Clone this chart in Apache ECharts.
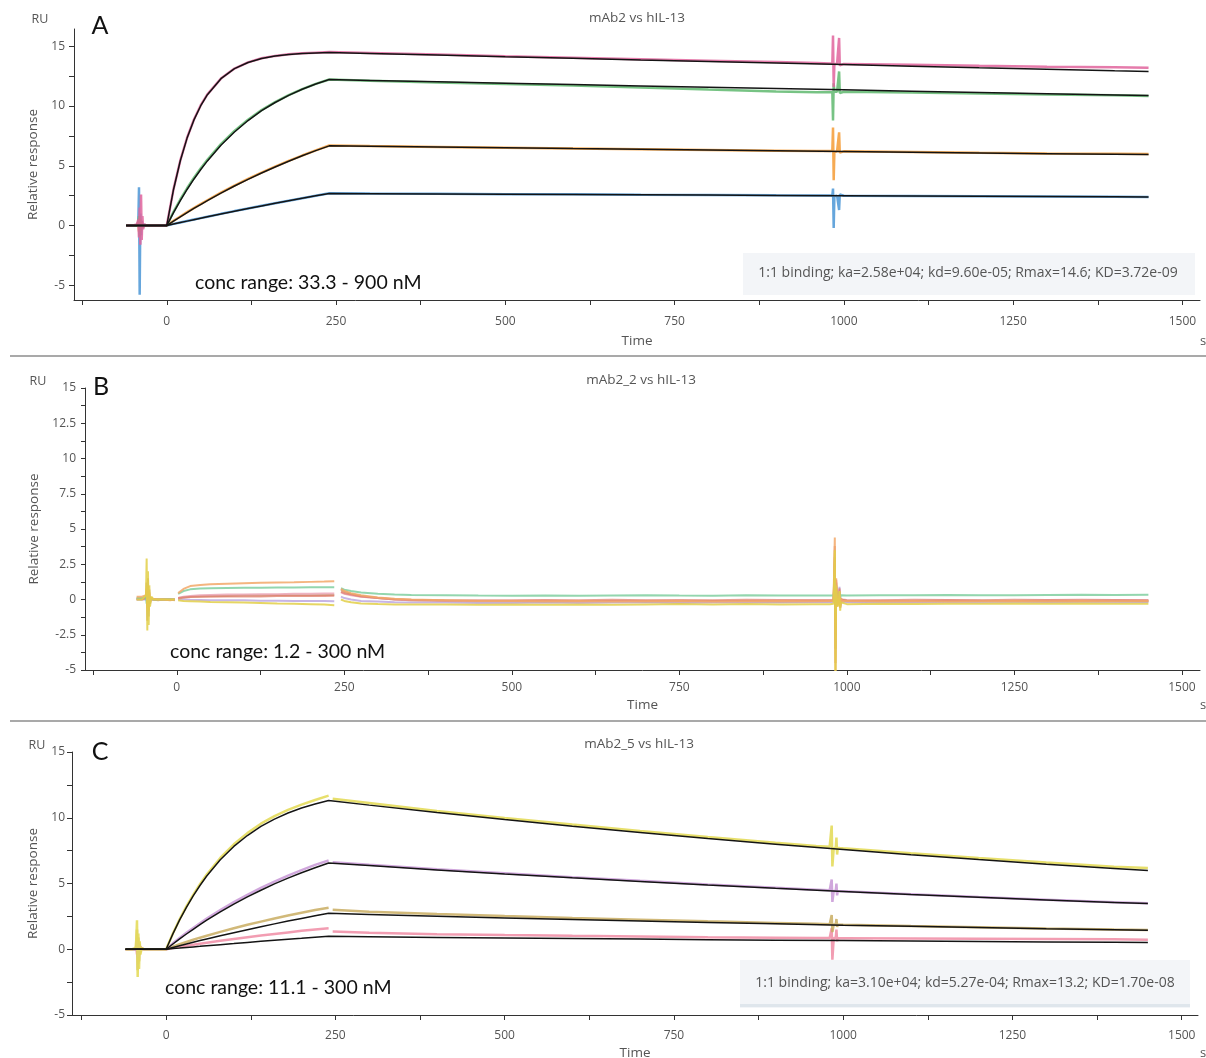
<!DOCTYPE html>
<html>
<head>
<meta charset="utf-8">
<title>mAb2 variants vs hIL-13 – SPR sensorgrams</title>
<script src="https://cdn.jsdelivr.net/npm/echarts@6/dist/echarts.min.js"></script>
<style>
  html, body { margin: 0; padding: 0; background: #fff; }
  #chart { width: 1206px; height: 1058px; }
</style>
</head>
<body>
<div id="chart"></div>
<script>
// ---------------- Panel titles and annotations ----------------
const panelTitles = ['mAb2 vs hIL-13', 'mAb2_2 vs hIL-13', 'mAb2_5 vs hIL-13'];
const panelLetters = ['A', 'B', 'C'];
const concLabels = ['conc range: 33.3 - 900 nM', 'conc range: 1.2 - 300 nM', 'conc range: 11.1 - 300 nM'];
const fitLabelA = '1:1 binding; ka=2.58e+04; kd=9.60e-05; Rmax=14.6; KD=3.72e-09';
const fitLabelC = '1:1 binding; ka=3.10e+04; kd=5.27e-04; Rmax=13.2; KD=1.70e-08';

// ---------------- Tick positions ----------------
const xTickValues = [-125, 0, 125, 250, 375, 500, 625, 750, 875, 1000, 1125, 1250, 1375, 1500];
const xLabelValues = [0, 250, 500, 750, 1000, 1250, 1500];
const yTickValuesAC = [-5, -2.5, 0, 2.5, 5, 7.5, 10, 12.5, 15];
const yLabelValuesAC = [-5, 0, 5, 10, 15];
const yTickValuesB = [-5, -3.75, -2.5, -1.25, 0, 1.25, 2.5, 3.75, 5, 6.25, 7.5, 8.75, 10, 11.25, 12.5, 13.75, 15];
const yLabelValuesB = [-5, -2.5, 0, 2.5, 5, 7.5, 10, 12.5, 15];

// ---------------- Fitted 1:1 curves (time in s, response in RU) ----------------
const tFit = [-60, 0, 10, 20, 30, 40, 50, 60, 80, 100, 120, 140, 160, 180, 200, 220, 240,
  300, 400, 500, 600, 700, 800, 900, 1000, 1100, 1200, 1300, 1400, 1450];

const fitA_900 = [0, 0, 3.02, 5.42, 7.32, 8.82, 10.01, 10.95, 12.29, 13.13, 13.65, 13.98, 14.19, 14.32, 14.40, 14.45, 14.49,
  14.41, 14.27, 14.13, 14.00, 13.86, 13.73, 13.60, 13.47, 13.34, 13.21, 13.09, 12.96, 12.90];
const fitA_300 = [0, 0, 1.09, 2.09, 3.02, 3.88, 4.67, 5.41, 6.72, 7.83, 8.79, 9.61, 10.30, 10.90, 11.41, 11.85, 12.22,
  12.15, 12.03, 11.92, 11.80, 11.69, 11.58, 11.47, 11.36, 11.25, 11.14, 11.04, 10.93, 10.88];
const fitA_100 = [0, 0, 0.37, 0.73, 1.09, 1.43, 1.76, 2.09, 2.71, 3.31, 3.87, 4.40, 4.90, 5.38, 5.84, 6.27, 6.67,
  6.63, 6.57, 6.51, 6.44, 6.38, 6.32, 6.26, 6.20, 6.14, 6.08, 6.02, 5.97, 5.94];
const fitA_33 = [0, 0, 0.13, 0.25, 0.37, 0.49, 0.61, 0.73, 0.97, 1.20, 1.42, 1.64, 1.86, 2.07, 2.28, 2.49, 2.69,
  2.67, 2.65, 2.62, 2.60, 2.57, 2.55, 2.52, 2.50, 2.48, 2.45, 2.43, 2.41, 2.39];

const fitC_300 = [0, 0, 1.17, 2.23, 3.19, 4.06, 4.85, 5.57, 6.80, 7.82, 8.65, 9.34, 9.90, 10.36, 10.74, 11.05, 11.31,
  10.96, 10.40, 9.86, 9.36, 8.88, 8.42, 7.99, 7.58, 7.19, 6.82, 6.47, 6.14, 5.98];
const fitC_100 = [0, 0, 0.40, 0.79, 1.16, 1.52, 1.87, 2.21, 2.84, 3.43, 3.98, 4.49, 4.97, 5.41, 5.82, 6.20, 6.56,
  6.36, 6.03, 5.72, 5.43, 5.15, 4.88, 4.63, 4.40, 4.17, 3.96, 3.75, 3.56, 3.47];
const fitC_33 = [0, 0, 0.14, 0.27, 0.40, 0.53, 0.66, 0.78, 1.02, 1.26, 1.49, 1.71, 1.93, 2.14, 2.34, 2.54, 2.73,
  2.65, 2.51, 2.38, 2.26, 2.14, 2.03, 1.93, 1.83, 1.74, 1.65, 1.56, 1.48, 1.44];
const fitC_11 = [0, 0, 0.05, 0.09, 0.14, 0.18, 0.22, 0.27, 0.35, 0.43, 0.52, 0.60, 0.68, 0.76, 0.83, 0.91, 0.98,
  0.95, 0.90, 0.85, 0.81, 0.77, 0.73, 0.69, 0.66, 0.62, 0.59, 0.56, 0.53, 0.52];

// ---------------- Measured sensorgrams, panel A ----------------
const tA = [-60, -50, -44, -42, -41, -40, -39, -38, -37, -36, -35, -33, -30, -20, -10, 0,
  10, 20, 30, 40, 50, 60, 80, 100, 120, 140, 160, 180, 200, 220, 240,
  300, 400, 500, 600, 700, 800, 900, 960,
  980, 983, 984, 985, 986, 990, 992, 993, 994, 996, 1000,
  1100, 1200, 1300, 1400, 1450];
const dataA_900 = [0, 0, 0.1, 0.5, -1.0, 1.5, -1.6, 2.6, -1.2, 0.8, -0.3, 0.1, 0, 0, 0, 0,
  3.05, 5.45, 7.35, 8.85, 10.05, 10.98, 12.3, 13.14, 13.66, 14.0, 14.2, 14.33, 14.42, 14.47, 14.52,
  14.44, 14.31, 14.17, 14.05, 13.92, 13.8, 13.68, 13.6,
  13.56, 13.55, 15.9, 11.6, 13.5, 13.55, 13.55, 15.7, 13.4, 13.54, 13.53,
  13.45, 13.37, 13.3, 13.24, 13.2];
const dataA_300 = [0, 0, 0, 0.2, 0.8, -0.9, 0.5, -0.4, 0.2, -0.1, 0, 0, 0, 0, 0, 0,
  1.15, 2.18, 3.12, 3.98, 4.78, 5.5, 6.82, 7.92, 8.86, 9.66, 10.33, 10.92, 11.42, 11.86, 12.22,
  12.12, 11.98, 11.85, 11.72, 11.55, 11.38, 11.22, 11.15,
  11.15, 11.15, 8.8, 11.9, 11.2, 11.2, 11.2, 12.9, 11.1, 11.2, 11.2,
  11.14, 11.05, 10.96, 10.9, 10.85];
const dataA_100 = [0, 0, 0, 0.3, -0.5, 0.6, -0.4, 0.3, -0.1, 0, 0, 0, 0, 0, 0, 0,
  0.4, 0.76, 1.12, 1.46, 1.8, 2.12, 2.75, 3.35, 3.9, 4.43, 4.93, 5.41, 5.86, 6.29, 6.7,
  6.65, 6.58, 6.52, 6.45, 6.39, 6.33, 6.27, 6.24,
  6.23, 6.3, 8.2, 3.8, 6.15, 6.22, 6.22, 7.8, 6.1, 6.22, 6.21,
  6.15, 6.09, 6.04, 6.0, 5.98];
const dataA_33 = [0, 0, 0, 0.3, 3.2, -5.8, 1.0, -0.8, 0.4, -0.2, 0.1, 0, 0, 0, 0, 0,
  0.14, 0.26, 0.38, 0.5, 0.62, 0.74, 0.98, 1.21, 1.43, 1.65, 1.87, 2.08, 2.29, 2.5, 2.7,
  2.68, 2.66, 2.63, 2.61, 2.58, 2.56, 2.53, 2.52,
  2.51, 2.5, 3.1, -0.2, 2.45, 2.5, 2.5, 1.3, 2.6, 2.5, 2.5,
  2.48, 2.46, 2.44, 2.42, 2.4];

// ---------------- Measured sensorgrams, panel B (no fit) ----------------
const tB = [-60, -52, -46, -45, -44, -43, -42, -41, -40, -38, -35, -28, -20, -10, -3,
  -1, 2, 10, 20, 35, 50, 75, 100, 125, 150, 175, 200, 220, 235,
  240, 245, 250, 260, 275, 300, 325, 350, 400, 450,
  500, 550, 600, 650, 700, 750, 800, 850, 900, 950,
  975, 980, 981, 982, 983, 984, 986, 988, 989, 990, 991, 993,
  1000, 1050, 1100, 1150, 1200, 1250, 1300, 1350, 1400, 1450];
const dataB_orange = [0.2, 0.2, 0.3, 0.8, -0.6, 1.0, -0.8, 0.5, -0.2, 0.1, 0.05, 0.0, 0.0, -0.05, 0.0,
  null, 0.45, 0.75, 0.95, 1.02, 1.08, 1.12, 1.15, 1.18, 1.2, 1.22, 1.25, 1.27, 1.3,
  null, 0.75, 0.6, 0.45, 0.3, 0.15, 0.05, 0.0, -0.05, -0.1,
  -0.1, -0.12, -0.1, -0.15, -0.12, -0.1, -0.15, -0.12, -0.1, -0.12,
  -0.1, -0.1, 2.0, 4.4, -6.0, 1.5, -0.5, 0.2, 0.6, -0.6, 0.1, -0.1,
  -0.1, -0.12, -0.1, -0.15, -0.12, -0.1, -0.12, -0.1, -0.12, -0.1];
const dataB_green = [0.1, 0.1, 0.2, -0.3, 0.5, -0.4, 0.3, -0.2, 0.1, 0.0, 0.0, 0.0, 0.0, 0.0, 0.0,
  null, 0.4, 0.6, 0.72, 0.78, 0.8, 0.82, 0.83, 0.84, 0.85, 0.85, 0.86, 0.86, 0.87,
  null, 0.8, 0.7, 0.6, 0.5, 0.4, 0.35, 0.32, 0.3, 0.28,
  0.27, 0.28, 0.26, 0.28, 0.3, 0.28, 0.27, 0.3, 0.28, 0.28,
  0.28, 0.28, 0.5, 1.2, -1.0, 0.6, 0.2, 0.3, 0.5, 0.1, 0.3, 0.28,
  0.28, 0.3, 0.3, 0.32, 0.3, 0.3, 0.32, 0.33, 0.32, 0.33];
const dataB_pink = [0.05, 0.05, 0.1, 0.6, -0.7, 0.8, -0.5, 0.3, -0.1, 0.05, 0.0, 0.0, 0.0, 0.0, 0.0,
  null, 0.1, 0.2, 0.25, 0.3, 0.32, 0.35, 0.35, 0.38, 0.38, 0.4, 0.4, 0.42, 0.42,
  null, 0.5, 0.4, 0.3, 0.2, 0.1, 0.0, -0.05, -0.08, -0.1,
  -0.1, -0.08, -0.12, -0.1, -0.08, -0.1, -0.12, -0.1, -0.08, -0.1,
  -0.1, -0.1, 0.8, 2.5, -2.5, 0.9, -0.3, 0.1, 0.7, -0.4, 0.0, -0.1,
  -0.1, -0.08, -0.1, -0.05, -0.08, -0.1, -0.05, -0.08, -0.05, -0.06];
const dataB_brown = [0.0, 0.0, 0.1, 1.2, -1.5, 1.5, -1.2, 0.7, -0.3, 0.1, 0.0, -0.05, 0.0, 0.0, -0.05,
  null, 0.05, 0.15, 0.2, 0.22, 0.25, 0.25, 0.28, 0.28, 0.3, 0.3, 0.3, 0.32, 0.32,
  null, 0.7, 0.55, 0.4, 0.25, 0.1, 0.0, -0.05, -0.1, -0.12,
  -0.12, -0.15, -0.12, -0.1, -0.15, -0.12, -0.1, -0.12, -0.15, -0.12,
  -0.12, -0.1, 1.0, 3.0, -3.5, 1.2, -0.4, 0.0, 0.5, -0.5, 0.0, -0.12,
  -0.12, -0.1, -0.12, -0.1, -0.08, -0.1, -0.12, -0.1, -0.1, -0.12];
const dataB_red = [0.05, 0.05, 0.1, 0.5, -0.4, 0.6, -0.3, 0.2, 0.0, 0.0, 0.0, 0.0, 0.0, 0.0, 0.0,
  null, 0.1, 0.15, 0.18, 0.2, 0.2, 0.22, 0.22, 0.22, 0.24, 0.24, 0.25, 0.25, 0.26,
  null, 0.55, 0.45, 0.35, 0.22, 0.1, 0.02, -0.02, -0.05, -0.05,
  -0.05, -0.03, -0.05, -0.02, -0.05, -0.03, -0.05, -0.02, -0.04, -0.03,
  -0.03, -0.03, 1.2, 3.8, -4.5, 1.4, -0.4, 0.1, 0.8, -0.5, 0.0, -0.03,
  -0.03, -0.05, -0.02, -0.03, -0.05, -0.02, -0.04, -0.02, -0.03, -0.05];
const dataB_purple = [0.0, 0.0, 0.0, 0.4, -0.5, 0.6, -0.4, 0.2, 0.0, 0.0, 0.0, 0.0, 0.0, 0.0, 0.0,
  null, 0.0, 0.0, -0.02, -0.03, -0.05, -0.05, -0.06, -0.08, -0.08, -0.1, -0.1, -0.1, -0.12,
  null, 0.2, 0.1, 0.0, -0.1, -0.15, -0.2, -0.22, -0.22, -0.25,
  -0.25, -0.22, -0.25, -0.22, -0.2, -0.25, -0.22, -0.2, -0.22, -0.2,
  -0.2, -0.2, 0.5, 1.5, -1.5, 0.5, -0.3, 0.0, 0.9, -0.6, 0.1, -0.2,
  -0.2, -0.22, -0.2, -0.2, -0.22, -0.2, -0.18, -0.2, -0.2, -0.18];
const dataB_yellow = [0.0, 0.0, 0.3, 2.9, -2.2, 2.0, -1.8, 1.0, -0.5, 0.2, 0.0, 0.0, 0.0, 0.0, 0.0,
  null, -0.05, -0.1, -0.12, -0.15, -0.18, -0.2, -0.22, -0.25, -0.28, -0.3, -0.33, -0.36, -0.4,
  null, 0.0, -0.1, -0.2, -0.28, -0.32, -0.35, -0.35, -0.35, -0.38,
  -0.35, -0.38, -0.35, -0.38, -0.35, -0.32, -0.35, -0.32, -0.35, -0.33,
  -0.33, -0.3, 1.5, 3.5, -5.5, 1.0, -0.5, -0.2, 0.6, -0.8, -0.2, -0.33,
  -0.33, -0.3, -0.32, -0.3, -0.3, -0.28, -0.3, -0.28, -0.3, -0.3];

// ---------------- Measured sensorgrams, panel C ----------------
const tC = [-60, -50, -45, -44, -43, -42, -41, -40, -39, -38, -36, -33, -30, -20, -10, 0,
  10, 20, 30, 40, 50, 60, 80, 100, 120, 140, 160, 180, 200, 220, 240,
  242, 246, 300, 400, 500, 600, 700, 800, 900, 960,
  980, 982, 983, 984, 986, 989, 990, 991, 992, 995,
  1000, 1100, 1200, 1300, 1400, 1450];
const dataC_300 = [0, 0, 0.1, 0.8, 2.2, -2.1, 1.2, -1.5, 0.6, -0.4, 0.1, 0, 0, 0, 0, 0,
  1.2, 2.28, 3.26, 4.14, 4.95, 5.68, 6.94, 7.98, 8.83, 9.55, 10.12, 10.6, 11.0, 11.35, 11.68,
  null, 11.45, 11.12, 10.52, 9.98, 9.48, 9.0, 8.54, 8.1, 7.86,
  7.8, 7.78, 9.4, 6.3, 7.68, 7.72, 8.5, 7.2, 7.72, 7.7,
  7.68, 7.3, 6.93, 6.6, 6.28, 6.18];
const dataC_100 = [0, 0, 0, 0.2, 0.6, -0.6, 0.4, -0.3, 0.1, 0, 0, 0, 0, 0, 0, 0,
  0.45, 0.86, 1.25, 1.62, 1.98, 2.33, 2.98, 3.58, 4.14, 4.66, 5.15, 5.6, 6.02, 6.42, 6.75,
  null, 6.62, 6.42, 6.08, 5.78, 5.48, 5.2, 4.93, 4.68, 4.53,
  4.48, 4.48, 5.3, 3.6, 4.43, 4.43, 5.0, 4.1, 4.43, 4.42,
  4.41, 4.19, 3.97, 3.77, 3.57, 3.49];
const dataC_33 = [0, 0, 0, 0.3, 1.5, -1.6, 0.9, -0.9, 0.4, -0.2, 0.1, 0, 0, 0, 0, 0,
  0.2, 0.38, 0.55, 0.72, 0.88, 1.03, 1.32, 1.6, 1.86, 2.1, 2.34, 2.56, 2.78, 2.98, 3.15,
  null, 3.0, 2.85, 2.68, 2.52, 2.38, 2.25, 2.12, 2.0, 1.93,
  1.9, 1.9, 2.6, 1.3, 1.88, 1.88, 2.3, 1.7, 1.88, 1.87,
  1.86, 1.76, 1.67, 1.58, 1.5, 1.47];
const dataC_11 = [0, 0, 0, 0.2, -0.4, 0.9, -1.1, 0.5, -0.4, 0.2, 0, 0, 0, 0, 0, 0,
  0.1, 0.18, 0.26, 0.34, 0.42, 0.5, 0.64, 0.78, 0.92, 1.04, 1.16, 1.28, 1.4, 1.5, 1.6,
  null, 1.35, 1.25, 1.15, 1.08, 1.02, 0.97, 0.92, 0.88, 0.86,
  0.86, 0.86, 1.6, -0.8, 0.85, 0.85, 1.5, 0.6, 0.85, 0.84,
  0.84, 0.82, 0.8, 0.78, 0.76, 0.72];

// ---------------- Helpers ----------------
function pairs(ts, vs) {
  return ts.map((t, i) => [t, vs[i] === null ? '-' : vs[i]]);
}
const uiFont = '"Open Sans", "Noto Sans", sans-serif';
const textGray = '#555';

function dataLine(idx, ts, vs, color, width, opacity) {
  return {
    type: 'line', xAxisIndex: idx, yAxisIndex: idx,
    data: pairs(ts, vs), showSymbol: false, symbol: 'none',
    connectNulls: false, silent: true, z: 2,
    lineStyle: { color: color, width: width, opacity: opacity }
  };
}
function fitLine(idx, vs) {
  return {
    type: 'line', xAxisIndex: idx, yAxisIndex: idx,
    data: pairs(tFit, vs), showSymbol: false, symbol: 'none', silent: true, z: 3,
    lineStyle: { color: '#141414', width: 1.5 }
  };
}

// grid geometry for the three stacked panels (fixed boxes, no auto-shrinking)
const grids = [
  { left: 74, top: 29, width: 1126, height: 271, outerBoundsMode: 'none', containLabel: false },
  { left: 85, top: 388, width: 1115, height: 282, outerBoundsMode: 'none', containLabel: false },
  { left: 72, top: 752, width: 1126, height: 263, outerBoundsMode: 'none', containLabel: false }
];
const xRanges = [[-137, 1526], [-137, 1527], [-139, 1524]];
const yRanges = [[-6.23, 16.45], [-5, 15], [-5, 15]];
const xNameGaps = [34, 28, 31];
const yNameGaps = [31, 44, 29];
const xLabelMargins = [16, 12, 15];
const yLabelMargins = [9, 9, 7];

const axisLineStyle = { color: '#333', width: 1 };

const xAxes = grids.map((g, i) => ({
  type: 'value', gridIndex: i, min: xRanges[i][0], max: xRanges[i][1],
  name: 'Time', nameLocation: 'middle', nameGap: xNameGaps[i],
  nameTextStyle: { fontFamily: uiFont, fontSize: 13.5, color: textGray },
  axisLine: { show: true, onZero: false, lineStyle: axisLineStyle },
  axisTick: { show: true, length: 5, customValues: xTickValues, lineStyle: axisLineStyle },
  axisLabel: { customValues: xLabelValues, margin: xLabelMargins[i], fontFamily: uiFont, fontSize: 12,
    color: textGray, formatter: v => String(v) },
  splitLine: { show: false }
}));

const yAxes = grids.map((g, i) => ({
  type: 'value', gridIndex: i, min: yRanges[i][0], max: yRanges[i][1],
  name: 'Relative response', nameLocation: 'middle', nameGap: yNameGaps[i], nameRotate: 90,
  nameTextStyle: { fontFamily: uiFont, fontSize: 13.5, color: textGray },
  axisLine: { show: true, onZero: false, lineStyle: axisLineStyle },
  axisTick: { show: true, length: i === 1 ? 4 : 5,
    customValues: i === 1 ? yTickValuesB : yTickValuesAC, lineStyle: axisLineStyle },
  axisLabel: { customValues: i === 1 ? yLabelValuesB : yLabelValuesAC, margin: yLabelMargins[i],
    fontFamily: uiFont, fontSize: 12, color: textGray, formatter: v => String(v) },
  splitLine: { show: false }
}));

const series = [
  // panel A measured
  dataLine(0, tA, dataA_33, '#4b96d6', 2.5, 0.85),
  dataLine(0, tA, dataA_100, '#f59b35', 2.5, 0.85),
  dataLine(0, tA, dataA_300, '#5fb86e', 2.5, 0.85),
  dataLine(0, tA, dataA_900, '#e0649c', 2.5, 0.85),
  // panel A fits
  fitLine(0, fitA_900), fitLine(0, fitA_300), fitLine(0, fitA_100), fitLine(0, fitA_33),
  // panel B measured
  dataLine(1, tB, dataB_purple, '#b9a2de', 2, 0.8),
  dataLine(1, tB, dataB_brown, '#c99c78', 2, 0.8),
  dataLine(1, tB, dataB_pink, '#eaa0b2', 2, 0.8),
  dataLine(1, tB, dataB_red, '#e07a68', 2, 0.7),
  dataLine(1, tB, dataB_green, '#80cfa0', 2, 0.85),
  dataLine(1, tB, dataB_orange, '#f2a868', 2, 0.85),
  dataLine(1, tB, dataB_yellow, '#e2cf48', 2, 0.85),
  // panel C measured
  dataLine(2, tC, dataC_11, '#f08ca4', 2.5, 0.85),
  dataLine(2, tC, dataC_33, '#c9ad62', 2.5, 0.85),
  dataLine(2, tC, dataC_100, '#c898d6', 2.5, 0.85),
  dataLine(2, tC, dataC_300, '#e4dc5c', 2.5, 0.9),
  // panel C fits
  fitLine(2, fitC_300), fitLine(2, fitC_100), fitLine(2, fitC_33), fitLine(2, fitC_11)
];

function label(x, y, text, font, fill, align) {
  return { type: 'text', x: x, y: y, silent: true, z: 10,
    style: { text: text, font: font, fill: fill, textAlign: align || 'center', textVerticalAlign: 'middle' } };
}

const graphic = [
  // panel separators
  { type: 'line', silent: true, shape: { x1: 10, y1: 356, x2: 1206, y2: 356 }, style: { stroke: '#8c8c8c', lineWidth: 1.5 } },
  { type: 'line', silent: true, shape: { x1: 10, y1: 721, x2: 1206, y2: 721 }, style: { stroke: '#8c8c8c', lineWidth: 1.5 } },
  // fit parameter boxes
  { type: 'rect', silent: true, z: 5, shape: { x: 743, y: 253, width: 452, height: 42 }, style: { fill: '#f3f5f8' } },
  { type: 'rect', silent: true, z: 5, shape: { x: 740, y: 960, width: 450, height: 48 }, style: { fill: '#f3f5f8' } },
  { type: 'rect', silent: true, z: 5, shape: { x: 740, y: 1004, width: 450, height: 3 }, style: { fill: '#dfe6ec' } },
  label(968, 273, fitLabelA, '14px ' + uiFont, textGray),
  label(965, 983, fitLabelC, '14px ' + uiFont, textGray),
  // panel titles
  label(637, 18, panelTitles[0], '13.5px ' + uiFont, textGray),
  label(641, 380, panelTitles[1], '13.5px ' + uiFont, textGray),
  label(639, 744, panelTitles[2], '13.5px ' + uiFont, textGray),
  // panel letters
  label(100, 26, panelLetters[0], '25px Lato, sans-serif', '#111'),
  label(101, 387, panelLetters[1], '25px Lato, sans-serif', '#111'),
  label(100, 752, panelLetters[2], '25px Lato, sans-serif', '#111'),
  // concentration ranges
  label(195, 283, concLabels[0], '19.5px Lato, sans-serif', '#111', 'left'),
  label(170, 652, concLabels[1], '19.5px Lato, sans-serif', '#111', 'left'),
  label(165, 988, concLabels[2], '19.5px Lato, sans-serif', '#111', 'left'),
  // unit labels
  label(40, 19, 'RU', '12.5px ' + uiFont, textGray),
  label(38, 381, 'RU', '12.5px ' + uiFont, textGray),
  label(37, 745, 'RU', '12.5px ' + uiFont, textGray),
  label(1203, 341, 's', '13px ' + uiFont, textGray),
  label(1203, 705, 's', '13px ' + uiFont, textGray),
  label(1203, 1053, 's', '13px ' + uiFont, textGray)
];

const chart = echarts.init(document.getElementById('chart'), null, { renderer: 'canvas' });
chart.setOption({
  animation: false,
  backgroundColor: '#ffffff',
  grid: grids,
  xAxis: xAxes,
  yAxis: yAxes,
  series: series,
  graphic: graphic
});
</script>
</body>
</html>
